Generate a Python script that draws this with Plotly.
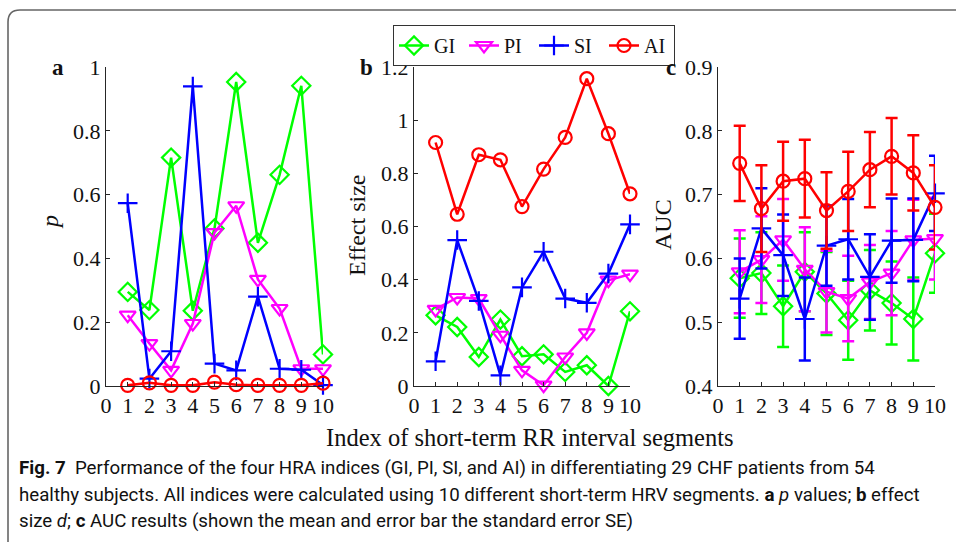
import plotly.graph_objects as go

W, H = 956, 542

segments = [1, 2, 3, 4, 5, 6, 7, 8, 9, 10]
x_ticks = [0, 1, 2, 3, 4, 5, 6, 7, 8, 9, 10]

# panel a: p values
p_GI = [0.295, 0.238, 0.716, 0.236, 0.494, 0.953, 0.449, 0.662, 0.941, 0.099]
p_PI = [0.222, 0.133, 0.049, 0.196, 0.481, 0.565, 0.334, 0.243, 0.054, 0.054]
p_SI = [0.573, 0.023, 0.109, 0.939, 0.070, 0.049, 0.280, 0.054, 0.051, 0.003]
p_AI = [0.002, 0.010, 0.002, 0.002, 0.012, 0.004, 0.002, 0.002, 0.002, 0.009]

# panel b: effect size
d_GI = [0.266, 0.222, 0.109, 0.250, 0.112, 0.119, 0.053, 0.078, 0.000, 0.281]
d_PI = [0.288, 0.333, 0.329, 0.191, 0.059, 0.003, 0.109, 0.200, 0.398, 0.421]
d_SI = [0.093, 0.549, 0.320, 0.040, 0.371, 0.505, 0.329, 0.313, 0.423, 0.608]
d_AI = [0.916, 0.646, 0.870, 0.851, 0.675, 0.816, 0.935, 1.156, 0.949, 0.723]

# panel c: AUC mean and SE
auc_GI = [0.569, 0.577, 0.525, 0.579, 0.545, 0.503, 0.550, 0.530, 0.505, 0.608]
auc_GI_se = [0.062, 0.064, 0.064, 0.062, 0.065, 0.062, 0.063, 0.065, 0.065, 0.062]
auc_PI = [0.579, 0.598, 0.629, 0.583, 0.548, 0.537, 0.563, 0.577, 0.629, 0.631]
auc_PI_se = [0.065, 0.068, 0.064, 0.066, 0.064, 0.067, 0.058, 0.066, 0.063, 0.064]
auc_SI = [0.537, 0.647, 0.605, 0.505, 0.620, 0.630, 0.571, 0.628, 0.629, 0.702]
auc_SI_se = [0.063, 0.063, 0.064, 0.065, 0.063, 0.063, 0.067, 0.066, 0.065, 0.059]
auc_AI = [0.749, 0.678, 0.721, 0.725, 0.675, 0.705, 0.739, 0.760, 0.734, 0.680]
auc_AI_se = [0.059, 0.068, 0.062, 0.061, 0.060, 0.062, 0.059, 0.060, 0.059, 0.066]

names = ["GI", "PI", "SI", "AI"]
colors = {"GI": "#00ff00", "PI": "#ff00ff", "SI": "#0000ff", "AI": "#ff0000"}
symbols = {"GI": "diamond-open", "PI": "triangle-down-open", "SI": "cross-thin-open", "AI": "circle-open"}
msize = {"GI": 14, "PI": 14, "SI": 14, "AI": 13}

p_data = {"GI": p_GI, "PI": p_PI, "SI": p_SI, "AI": p_AI}
d_data = {"GI": d_GI, "PI": d_PI, "SI": d_SI, "AI": d_AI}
auc_data = {"GI": (auc_GI, auc_GI_se), "PI": (auc_PI, auc_PI_se),
            "SI": (auc_SI, auc_SI_se), "AI": (auc_AI, auc_AI_se)}

SERIF = "Liberation Serif, Times New Roman, serif"
SANS = "Roboto, Noto Sans, sans-serif"

fig = go.Figure()

def marker(n):
    return dict(symbol=symbols[n], size=msize[n], color=colors[n],
                line=dict(color=colors[n], width=2.2))

for n in names:
    fig.add_trace(go.Scatter(x=segments, y=p_data[n], mode="lines+markers", name=n,
                             line=dict(color=colors[n], width=2.5), marker=marker(n),
                             xaxis="x", yaxis="y", cliponaxis=False, showlegend=True))
for n in names:
    fig.add_trace(go.Scatter(x=segments, y=d_data[n], mode="lines+markers", name=n,
                             line=dict(color=colors[n], width=2.5), marker=marker(n),
                             xaxis="x2", yaxis="y2", cliponaxis=False, showlegend=False))
for n in names:
    m, se = auc_data[n]
    fig.add_trace(go.Scatter(x=segments, y=m, mode="lines+markers", name=n,
                             line=dict(color=colors[n], width=2.5), marker=marker(n),
                             error_y=dict(type="data", array=se, visible=True,
                                          color=colors[n], thickness=2.5, width=6),
                             xaxis="x3", yaxis="y3", cliponaxis=False, showlegend=False))

ydom = [1 - 386 / H, 1 - 67 / H]
xdoms = [[106 / W, 323 / W], [414 / W, 630 / W], [718 / W, 935 / W]]
yranges = [[0, 1], [0, 1.2], [0.4, 0.9]]
ytickvals = [[0, 0.2, 0.4, 0.6, 0.8, 1],
             [0, 0.2, 0.4, 0.6, 0.8, 1, 1.2],
             [0.4, 0.5, 0.6, 0.7, 0.8, 0.9]]
yticktext = [["0", "0.2", "0.4", "0.6", "0.8", "1"],
             ["0", "0.2", "0.4", "0.6", "0.8", "1", "1.2"],
             ["0.4", "0.5", "0.6", "0.7", "0.8", "0.9"]]

axcommon = dict(showline=True, linecolor="#262626", linewidth=1, ticks="inside",
                ticklen=4, tickcolor="#262626", showgrid=False, zeroline=False,
                tickfont=dict(family=SERIF, size=22, color="#111"), automargin=False)

layout = dict(width=W, height=H, margin=dict(l=0, r=0, t=0, b=0),
              paper_bgcolor="white", plot_bgcolor="white", template="none",
              showlegend=True)
for i in range(3):
    sfx = "" if i == 0 else str(i + 1)
    layout["xaxis" + sfx] = dict(domain=xdoms[i], range=[0, 10], tickvals=x_ticks,
                                 anchor="y" + sfx, **axcommon)
    layout["yaxis" + sfx] = dict(domain=ydom, range=yranges[i], tickvals=ytickvals[i],
                                 ticktext=yticktext[i], anchor="x" + sfx, **axcommon)
fig.update_layout(**layout)

fig.update_layout(legend=dict(orientation="h", x=393 / W, y=1 - 25 / H, xanchor="left",
                              yanchor="top", bordercolor="#333", borderwidth=1,
                              bgcolor="white", font=dict(family=SERIF, size=20, color="#111"),
                              itemwidth=30, tracegroupgap=0,
                              entrywidthmode="pixels", entrywidth=25))

ann = []
def add_text(x, y, text, size=20, family=SERIF, angle=0, xanchor="center", **kw):
    ann.append(dict(x=x / W, y=1 - y / H, xref="paper", yref="paper", text=text,
                    showarrow=False, xanchor=xanchor, yanchor="middle", textangle=angle,
                    font=dict(family=family, size=size, color="#111"), **kw))

add_text(58, 68, "<b>a</b>", size=23)
add_text(366, 68, "<b>b</b>", size=23)
add_text(671, 68, "<b>c</b>", size=23)
add_text(50, 222, "<i>p</i>", size=24, angle=-90)
add_text(357, 225, "Effect size", size=24, angle=-90)
add_text(663, 225, "AUC", size=24, angle=-90)
add_text(530, 437, "Index of short-term RR interval segments", size=24.5)

cap1 = "<b>Fig. 7</b>  Performance of the four HRA indices (GI, PI, SI, and AI) in differentiating 29 CHF patients from 54"
cap2 = "healthy subjects. All indices were calculated using 10 different short-term HRV segments. <b>a</b> <i>p</i> values; <b>b</b> effect"
cap3 = "size <i>d</i>; <b>c</b> AUC results (shown the mean and error bar the standard error SE)"
for txt, yy in [(cap1, 468), (cap2, 495), (cap3, 521)]:
    add_text(17, yy, txt, size=18.7, family=SANS, xanchor="left", align="left")

fig.update_layout(annotations=ann)

# rounded frame around the figure
x0, y0 = 8 / W, 1 - 10 / H
yb = 1 - 552 / H
x1 = 970 / W
rx, ry = 12 / W, 12 / H
path = (f"M {x0},{yb} L {x0},{y0 - ry} Q {x0},{y0} {x0 + rx},{y0} L {x1},{y0}")
fig.add_shape(type="path", path=path, xref="paper", yref="paper",
              line=dict(color="#666", width=1.6))

fig.write_html("out.html")
